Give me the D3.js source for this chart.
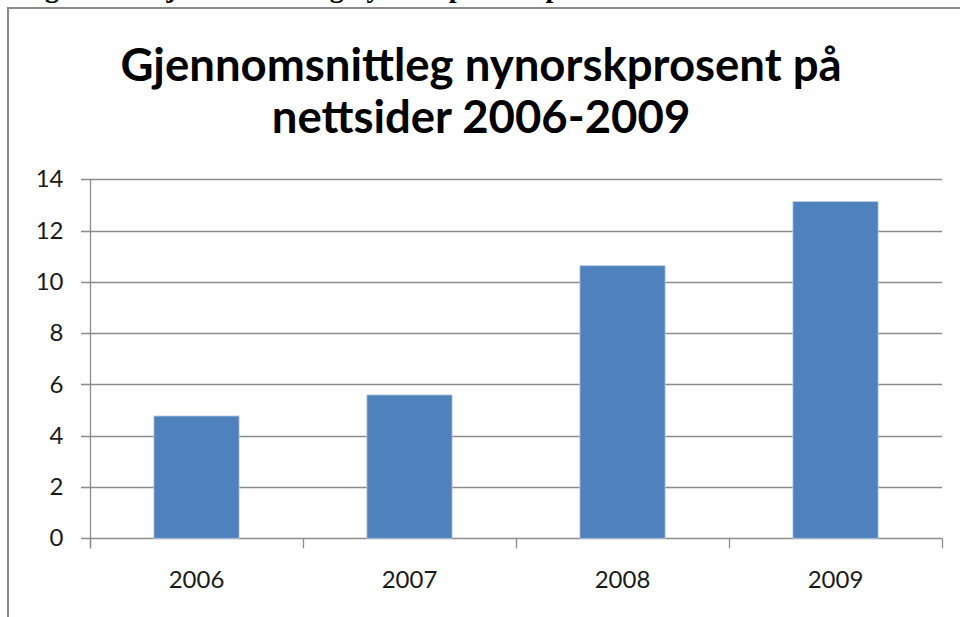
<!DOCTYPE html>
<html>
  <head>
    <style>
     body{
         margin: 0;
         background-color: white;
         overflow: hidden;
     }
    </style>
    <script src="https://d3js.org/d3.v7.min.js"></script>
    <title>Gjennomsnittleg nynorskprosent</title>
  </head>
  <body>
    <script>
    // data
    const years = ["2006", "2007", "2008", "2009"];
    const prosent = [4.77, 5.59, 10.63, 13.13];
    const yTicks = [0, 2, 4, 6, 8, 10, 12, 14];
    const titleLines = ["Gjennomsnittleg nynorskprosent på", "nettsider 2006-2009"];
    const caption = "Figur 3.2: Gjennomsnittleg nynorskprosent på nettsider 2006-2009";

    const w = 960;
    const h = 617;
    const plotLeft = 90, plotRight = 942, plotTop = 179.3, plotBottom = 538.3;

    const svg = d3.select("body")
                  .append("svg")
                  .attr("width", w)
                  .attr("height", h);

    // caption from the page above, mostly cut off
    svg.append("text")
       .attr("x", 20)
       .attr("y", -3)
       .attr("font-family", "Liberation Serif")
       .attr("font-weight", "bold")
       .attr("font-size", 28)
       .text(caption);

    // chart frame
    svg.append("rect")
       .attr("x", 8)
       .attr("y", 8)
       .attr("width", 1000)
       .attr("height", 700)
       .attr("fill", "white")
       .attr("stroke", "#8a8a8a")
       .attr("stroke-width", 2);

    svg.selectAll(".title")
       .data(titleLines)
       .enter()
       .append("text")
       .attr("class", "title")
       .attr("x", 481)
       .attr("y", (d, i) => 81 + i * 52)
       .attr("text-anchor", "middle")
       .attr("font-family", "Lato")
       .attr("font-weight", "bold")
       .attr("font-size", 45.5)
       .attr("fill", "#000")
       .text(d => d);

    const xScale = d3.scaleBand()
                     .domain(years)
                     .range([plotLeft, plotRight])
                     .paddingInner(0)
                     .paddingOuter(0);

    const yScale = d3.scaleLinear()
                     .domain([0, 14])
                     .range([plotBottom, plotTop]);

    // gridlines
    svg.append("g")
       .selectAll("line")
       .data(yTicks)
       .enter()
       .append("line")
       .attr("x1", plotLeft - 9)
       .attr("x2", plotRight)
       .attr("y1", d => Math.round(yScale(d)) + 0.5)
       .attr("y2", d => Math.round(yScale(d)) + 0.5)
       .attr("stroke", "#8c8c8c")
       .attr("stroke-width", 1.3);

    // bars
    const barW = xScale.bandwidth() * 0.4;
    svg.selectAll(".bar")
       .data(prosent)
       .enter()
       .append("rect")
       .attr("class", "bar")
       .attr("x", (d, i) => xScale(years[i]) + (xScale.bandwidth() - barW) / 2)
       .attr("y", d => yScale(d))
       .attr("width", barW)
       .attr("height", d => yScale(0) - yScale(d))
       .attr("fill", "#4f81bd")
       .attr("stroke", "#b9cde5")
       .attr("stroke-width", 0.8);

    // y axis
    const yAxis = d3.axisLeft(yScale)
                    .tickValues(yTicks)
                    .tickSize(0)
                    .tickPadding(27);
    const yg = svg.append("g")
       .attr("transform", "translate(" + (plotLeft + 0.5) + ",0)")
       .call(yAxis);
    yg.select(".domain").remove();
    yg.selectAll("text")
      .attr("font-family", "Lato")
      .attr("font-size", 24)
      .attr("fill", "#1a1a1a");
    svg.append("line")
       .attr("x1", plotLeft + 0.5).attr("x2", plotLeft + 0.5)
       .attr("y1", plotTop).attr("y2", plotBottom + 10)
       .attr("stroke", "#8c8c8c")
       .attr("stroke-width", 1.3);

    // x axis
    const xAxis = d3.axisBottom(xScale)
                    .tickSize(0)
                    .tickPadding(32);
    const xg = svg.append("g")
       .attr("transform", "translate(0," + (Math.round(plotBottom) + 0.5) + ")")
       .call(xAxis);
    xg.select(".domain").remove();
    xg.selectAll("text")
      .attr("font-family", "Lato")
      .attr("font-size", 24)
      .attr("fill", "#1a1a1a");
    // category boundary ticks
    svg.append("g")
       .selectAll("line")
       .data(years.concat(["end"]))
       .enter()
       .append("line")
       .attr("x1", (d, i) => Math.round(plotLeft + i * xScale.bandwidth()) + 0.5)
       .attr("x2", (d, i) => Math.round(plotLeft + i * xScale.bandwidth()) + 0.5)
       .attr("y1", plotBottom)
       .attr("y2", plotBottom + 10)
       .attr("stroke", "#8c8c8c")
       .attr("stroke-width", 1.3);
    </script>
  </body>
</html>
